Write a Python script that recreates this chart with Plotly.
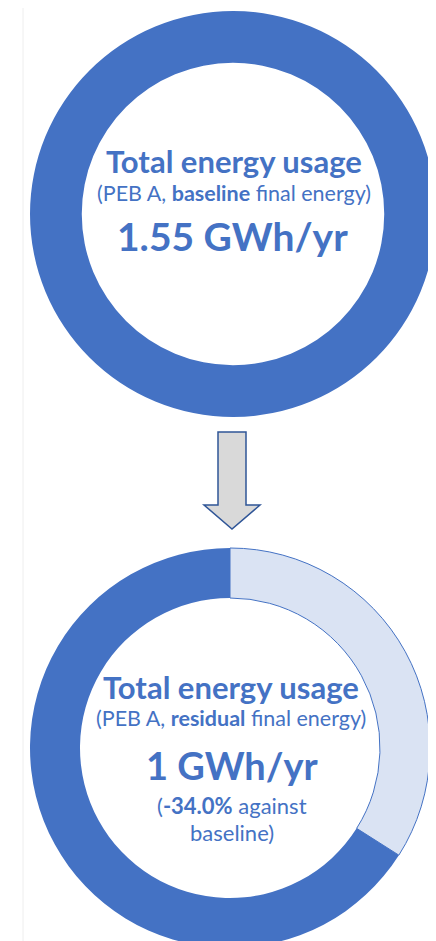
import plotly.graph_objects as go

# ---- data ----
baseline_gwh = [1.55]
residual_labels = ["Reduction vs baseline", "Residual final energy"]
residual_values = [0.527, 1.023]
reduction_pct = -34.0

DARK = "#4472C4"
LIGHT = "#DAE3F3"
W, H = 436, 941

def px(x):
    return x / W

def py(y):
    return 1 - y / H

fig = go.Figure()

# top donut (baseline)
fig.add_trace(go.Pie(
    labels=["Baseline final energy"], values=baseline_gwh,
    hole=0.745, sort=False, textinfo="none", hoverinfo="label+value",
    marker=dict(colors=[DARK], line=dict(color=DARK, width=0)),
    domain=dict(x=[px(22), px(428)], y=[py(410), py(2)]),
    showlegend=False,
))

# bottom donut (residual)
fig.add_trace(go.Pie(
    labels=residual_labels, values=residual_values,
    hole=0.75, sort=False, direction="clockwise", rotation=0,
    textinfo="none", hoverinfo="label+value",
    marker=dict(colors=[LIGHT, DARK], line=dict(color=[DARK, DARK], width=[1, 0])),
    domain=dict(x=[px(22), px(422)], y=[py(940), py(540)]),
    showlegend=False,
))

FONT = "Lato, 'Open Sans', sans-serif"

def ann(text, x, y, size):
    fig.add_annotation(text=text, x=px(x), y=py(y), xref="paper", yref="paper",
                       showarrow=False, xanchor="center", yanchor="middle",
                       font=dict(family=FONT, size=size, color=DARK))

# top texts
ann("<b>Total energy usage</b>", 226, 153, 31)
ann("(PEB A, <b>baseline</b> final energy)", 226, 185, 21.5)
ann(f"<b>{baseline_gwh[0]:.2f} GWh/yr</b>", 224, 228, 39)

# bottom texts
total_res = residual_values[1]
ann("<b>Total energy usage</b>", 223, 679, 31)
ann("(PEB A, <b>residual</b> final energy)", 223, 710, 21.5)
ann(f"<b>{total_res:.0f} GWh/yr</b>", 224, 757, 38)
ann(f"(<b>{reduction_pct:.1f}%</b> against", 224, 797, 22)
ann("baseline)", 224, 824, 22)

# arrow (decoration)
ax = [210, 238, 238, 252, 224, 196, 210]
ay = [424, 424, 497, 497, 521, 497, 497]
path = "M " + " L ".join(f"{px(x)} {py(y)}" for x, y in zip(ax, ay)) + " Z"
fig.add_shape(type="path", path=path, xref="paper", yref="paper",
              fillcolor="#D9D9D9", line=dict(color="#2F5597", width=1.5))

# faint slide border on left
fig.add_shape(type="line", x0=px(15), x1=px(15), y0=0, y1=1, xref="paper", yref="paper",
              line=dict(color="#EEEEEE", width=1))

fig.update_layout(width=W, height=H, margin=dict(l=0, r=0, t=0, b=0),
                  paper_bgcolor="white", plot_bgcolor="white")

fig.write_html("out.html")
